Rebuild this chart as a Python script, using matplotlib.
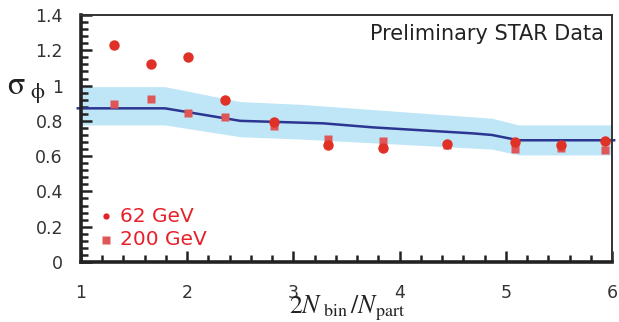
import matplotlib.pyplot as plt
from matplotlib.ticker import MultipleLocator

# data
x_pts = [1.31, 1.66, 2.01, 2.36, 2.82, 3.33, 3.84, 4.45, 5.09, 5.52, 5.93]
sig_62 = [1.232, 1.122, 1.162, 0.917, 0.795, 0.663, 0.644, 0.667, 0.680, 0.663, 0.686]
sig_200 = [0.894, 0.924, 0.843, 0.824, 0.773, 0.695, 0.686, 0.665, 0.640, 0.645, 0.635]

x_line = [0.97, 1.79, 2.50, 3.06, 3.28, 3.75, 4.69, 4.87, 5.12, 6.02]
y_line = [0.871, 0.871, 0.800, 0.790, 0.786, 0.763, 0.729, 0.720, 0.690, 0.690]

x_band = [1.0, 1.79, 2.50, 3.06, 4.87, 5.12, 6.0]
band_hi = [0.994, 0.994, 0.909, 0.894, 0.815, 0.777, 0.777]
band_lo = [0.777, 0.777, 0.710, 0.697, 0.640, 0.607, 0.607]

plt.rcParams['mathtext.fontset'] = 'stix'

fig = plt.figure(figsize=(6.19, 3.22), dpi=100)
ax = fig.add_axes([81/619, 1-262/322, 531/619, 247/322])

ax.fill_between(x_band, band_lo, band_hi, color="#bfe6f6", lw=0, zorder=1)
ax.plot(x_line, y_line, color="#2b3592", lw=1.8, zorder=2, clip_on=False)
ax.plot(x_pts, sig_200, ls="none", marker="s", ms=6.2, color="#e05656",
        mec="none", zorder=3, label="200 GeV")
ax.plot(x_pts, sig_62, ls="none", marker="o", ms=7.5, color="#e03127",
        mec="none", zorder=4, label="62 GeV")

ax.set_xlim(1, 6)
ax.set_ylim(0, 1.4)
ax.xaxis.set_major_locator(MultipleLocator(1))
ax.xaxis.set_minor_locator(MultipleLocator(0.2))
ax.yaxis.set_minor_locator(MultipleLocator(0.04))
ax.set_yticks([0, 0.2, 0.4, 0.6, 0.8, 1.0, 1.2, 1.4])
ax.set_yticklabels(["0", "0.2", "0.4", "0.6", "0.8", "1", "1.2", "1.4"])

ax.tick_params(which="both", direction="in", colors="#222222", width=1.8,
               labelcolor="#333333", labelsize=12.5)
ax.tick_params(which="major", length=8)
ax.tick_params(which="minor", length=5)
ax.tick_params(axis="x", pad=16)
ax.tick_params(axis="y", pad=13)

for side in ("left", "bottom"):
    ax.spines[side].set_linewidth(2.6)
    ax.spines[side].set_color("#222222")
for side in ("top", "right"):
    ax.spines[side].set_linewidth(1.4)
    ax.spines[side].set_color("#333333")

ax.text(0.985, 0.965, "Preliminary STAR Data", transform=ax.transAxes,
        ha="right", va="top", fontsize=15, color="#222222")

# legend drawn by hand to match the original layout
ax.plot([1.235], [0.26], marker="o", ms=4.5, color="#e8202a", mec="none")
ax.plot([1.235], [0.125], marker="s", ms=5.5, color="#e05656", mec="none")
ax.text(1.37, 0.26, "62 GeV", color="#e8202a", fontsize=14.5, va="center")
ax.text(1.37, 0.125, "200 GeV", color="#e8202a", fontsize=14.5, va="center")

fig.text(7/619, 1-95/322, r"$\mathrm{\sigma}_{\ \mathrm{\phi}}$", fontsize=23,
         color="#222222", ha="left", va="baseline")
fig.text(347/619, 1-313/322, r"$2N_{\ \mathrm{bin}}\,/N_{\mathrm{part}}$",
         fontsize=18.5, color="#222222", ha="center", va="baseline")

fig.savefig("out.png", dpi=100)
